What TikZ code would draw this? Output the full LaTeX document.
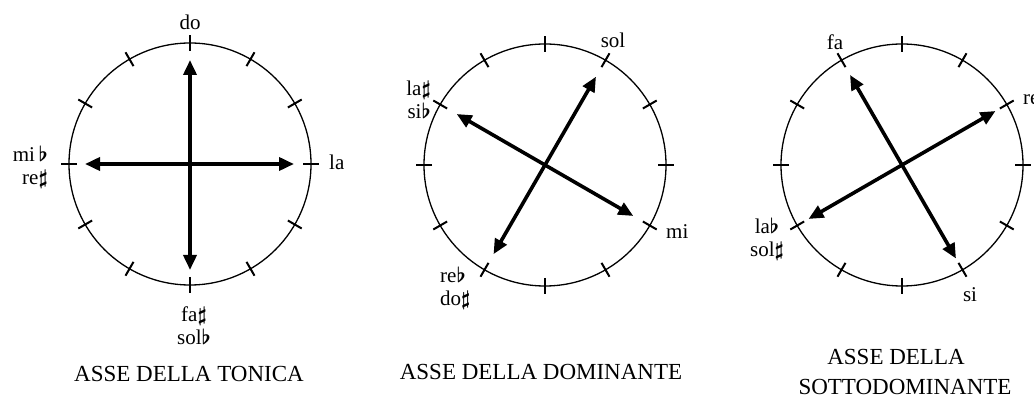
\documentclass[tikz,border=0pt]{standalone}
\usepackage{fontspec}
\setmainfont{Liberation Serif}
\usetikzlibrary{arrows.meta,calc}
\newcommand{\fl}{{\boldmath$\flat$}}
\newcommand{\sh}{{\boldmath$\sharp$}}
\begin{document}
\begin{tikzpicture}[x=1pt,y=-1pt,
  ring/.style={draw, circle, minimum size=242pt, inner sep=0pt, line width=1.3pt},
  tickmark/.style={line width=2pt},
  axis/.style={line width=3.6pt, {Triangle[length=15pt,width=13pt]}-{Triangle[length=15pt,width=13pt]}},
  lbl/.style={inner sep=0pt, font=\fontsize{21}{23}\selectfont},
  ttl/.style={inner sep=0pt, font=\fontsize{23}{26}\selectfont}]
\useasboundingbox (0,0) rectangle (1034,398);
\fill[white] (0,0) rectangle (1034,398);

% circles
\node[ring] (C1) at (190,164) {};
\node[ring] (C2) at (545,165) {};
\node[ring] (C3) at (902,165) {};

% ticks
\foreach \c in {C1,C2,C3}{
  \foreach \a in {0,30,...,330}{
    \draw[tickmark] ($(\c.center)+(\a:113pt)$) -- ($(\c.center)+(\a:129pt)$);
  }
}

% axis end points
\coordinate (C1n) at ($(C1.center)+(90:104pt)$);
\coordinate (C1s) at ($(C1.center)+(270:106pt)$);
\coordinate (C1w) at ($(C1.center)+(180:105pt)$);
\coordinate (C1e) at ($(C1.center)+(0:104pt)$);
\coordinate (C2a) at ($(C2.center)+(60:102pt)$);
\coordinate (C2b) at ($(C2.center)+(240:103pt)$);
\coordinate (C2c) at ($(C2.center)+(150:102pt)$);
\coordinate (C2d) at ($(C2.center)+(-30:102pt)$);
\coordinate (C3a) at ($(C3.center)+(120:104pt)$);
\coordinate (C3b) at ($(C3.center)+(-60:108pt)$);
\coordinate (C3c) at ($(C3.center)+(30:108pt)$);
\coordinate (C3d) at ($(C3.center)+(210:108pt)$);

% axes
\draw[axis] (C1n) -- (C1s);
\draw[axis] (C1w) -- (C1e);
\draw[axis] (C2a) -- (C2b);
\draw[axis] (C2c) -- (C2d);
\draw[axis] (C3a) -- (C3b);
\draw[axis] (C3c) -- (C3d);

% labels circle 1
\node[lbl] (do1) at (190,22) {do};
\node[lbl, anchor=west] (la1) at (329,162) {la};
\node[lbl, anchor=east, align=right] (mi1) at (48,167) {mi\,\fl\\re\sh};
\node[lbl, align=center] (fa1) at (194,326) {fa\sh\\sol\fl};
\node[ttl] (T1) at (189,374) {ASSE DELLA TONICA};

% labels circle 2
\node[lbl] (sol2) at (613,40) {sol};
\node[lbl, anchor=east, align=right] (la2) at (431,100) {la\sh\\si\fl};
\node[lbl, anchor=west] (mi2) at (666,232) {mi};
\node[lbl, anchor=west, align=left] (re2) at (440,288) {re\fl\\do\sh};
\node[ttl] (T2) at (541,372) {ASSE DELLA DOMINANTE};

% labels circle 3
\node[lbl] (fa3) at (835,42) {fa};
\node[lbl, anchor=west] (re3) at (1023,100) {re};
\node[lbl, align=center] (lab3) at (767,239) {la\fl\\sol\sh};
\node[lbl] (si3) at (970,295) {si};
\node[ttl] (T3a) at (896,357) {ASSE DELLA};
\node[ttl] (T3b) at (905,387) {SOTTODOMINANTE};
\end{tikzpicture}
\end{document}
